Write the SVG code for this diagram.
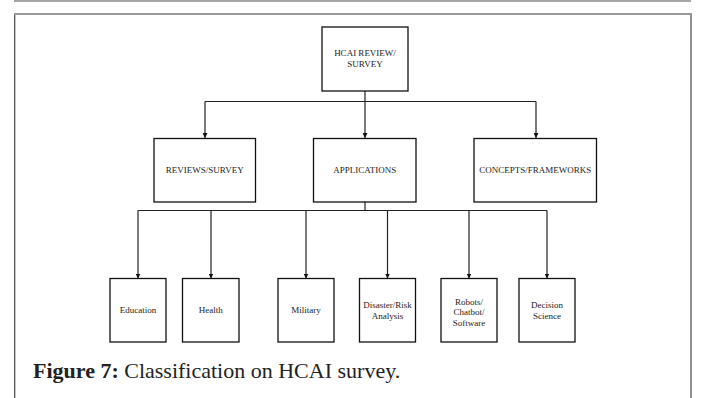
<svg xmlns="http://www.w3.org/2000/svg" width="704" height="398" viewBox="0 0 704 398">
<defs>
<style>
.box{fill:#fff;stroke:#111;stroke-width:1.3}
.lbl{font-family:"Liberation Serif","Times New Roman",serif;font-size:9px;fill:#222;text-anchor:middle}
.con{fill:none;stroke:#222;stroke-width:1.2}
.frame{fill:none;stroke:#555;stroke-width:1.3}
.cap{font-family:"Liberation Serif","Times New Roman",serif;font-size:22px;fill:#222}
</style>
<marker id="arr" viewBox="0 0 6 6" refX="6" refY="3" markerWidth="5" markerHeight="5" orient="auto" markerUnits="userSpaceOnUse">
<path d="M0,0 L6,3 L0,6 Z" fill="#111"/>
</marker>
</defs>
<rect width="704" height="398" fill="#fff"/>
<line x1="14" y1="1" x2="691" y2="1" stroke="#888" stroke-width="1.5"/>
<path class="frame" d="M14.7,398 V14 H691 V398"/>
<line x1="14" y1="14" x2="691" y2="14" stroke="#999" stroke-width="1.8"/>

<g id="connectors">
<path class="con" d="M365,91 V101.5"/>
<path class="con" d="M205,101.5 H536"/>
<path class="con" d="M205,101.5 V138" marker-end="url(#arr)"/>
<path class="con" d="M365,101.5 V138" marker-end="url(#arr)"/>
<path class="con" d="M536,101.5 V138" marker-end="url(#arr)"/>
<path class="con" d="M365,202 V210.5"/>
<path class="con" d="M138,210.5 H547"/>
<path class="con" d="M138,210.5 V278.5" marker-end="url(#arr)"/>
<path class="con" d="M211,210.5 V278.5" marker-end="url(#arr)"/>
<path class="con" d="M306,210.5 V278.5" marker-end="url(#arr)"/>
<path class="con" d="M387.5,210.5 V278.5" marker-end="url(#arr)"/>
<path class="con" d="M469,210.5 V278.5" marker-end="url(#arr)"/>
<path class="con" d="M547,210.5 V278.5" marker-end="url(#arr)"/>
</g>

<g id="root">
<rect class="box" x="322" y="27" width="86" height="64"/>
<text class="lbl" x="365" y="56">HCAI REVIEW/</text>
<text class="lbl" x="365" y="67">SURVEY</text>
</g>
<g id="reviews">
<rect class="box" x="154" y="138.5" width="101.5" height="63.5"/>
<text class="lbl" x="204.75" y="173">REVIEWS/SURVEY</text>
</g>
<g id="applications">
<rect class="box" x="313.5" y="138.5" width="102.5" height="63.5"/>
<text class="lbl" x="364.75" y="173">APPLICATIONS</text>
</g>
<g id="concepts">
<rect class="box" x="474" y="138.5" width="122.5" height="63.5"/>
<text class="lbl" x="535.25" y="173">CONCEPTS/FRAMEWORKS</text>
</g>

<g id="education">
<rect class="box" x="110" y="278.5" width="56" height="63.5"/>
<text class="lbl" x="138" y="313">Education</text>
</g>
<g id="health">
<rect class="box" x="182.5" y="278.5" width="56.5" height="63.5"/>
<text class="lbl" x="210.75" y="313">Health</text>
</g>
<g id="military">
<rect class="box" x="278" y="278.5" width="56" height="63.5"/>
<text class="lbl" x="306" y="313">Military</text>
</g>
<g id="disaster">
<rect class="box" x="359.5" y="278.5" width="56" height="63.5"/>
<text class="lbl" x="387.5" y="308">Disaster/Risk</text>
<text class="lbl" x="387.5" y="318.5">Analysis</text>
</g>
<g id="robots">
<rect class="box" x="441" y="278.5" width="56" height="63.5"/>
<text class="lbl" x="469" y="305">Robots/</text>
<text class="lbl" x="469" y="315">Chatbot/</text>
<text class="lbl" x="469" y="325.5">Software</text>
</g>
<g id="decision">
<rect class="box" x="519" y="278.5" width="56" height="63.5"/>
<text class="lbl" x="547" y="308">Decision</text>
<text class="lbl" x="547" y="318.5">Science</text>
</g>

<text class="cap" x="33" y="378"><tspan font-weight="bold">Figure 7:</tspan> Classification on HCAI survey.</text>
</svg>
